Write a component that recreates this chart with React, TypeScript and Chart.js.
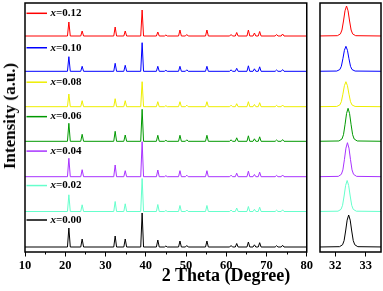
import React, { useEffect, useRef } from 'react';
import { Chart, registerables } from 'chart.js';
Chart.register(...registerables);

// ---- data ----
const sampleNames = ['0.00', '0.02', '0.04', '0.06', '0.08', '0.10', '0.12'];
const sampleColors = ['#000000', '#66ffcc', '#a833ff', '#009900', '#eeee00', '#0000ff', '#ff0000'];
const stackOffsets = [0, 35.5, 70.3, 105.7, 140.3, 175.7, 211];

const peakPositions = [20.9, 24.2, 32.4, 34.9, 39.1, 43.0, 45.0, 48.5, 50.2, 55.2, 61.2, 62.6, 65.5, 67.0, 68.3, 72.5, 74.0];
const heights000 = [19, 8, 11, 8, 34, 7, 1, 6, 1.5, 6, 1.5, 3.5, 5, 2.2, 4.3, 1.3, 1.7];
const heights002 = [16.7, 6.7, 10, 7.7, 33, 7, 1, 6, 1.5, 6, 1.5, 3.5, 5, 2.2, 4.3, 1.3, 1.7];
const heights004 = [18.4, 7, 11.7, 6, 35, 6.7, 1, 6, 1.5, 6, 1.5, 3.5, 5.5, 2.2, 4.5, 1.3, 1.7];
const heights006 = [18, 7, 10, 6.3, 32, 6, 1, 6, 1.5, 6, 1.5, 3.5, 5.5, 2.5, 4.5, 1.3, 1.7];
const heights008 = [12.7, 6, 8, 6, 25, 5, 1, 5, 1.5, 5, 1.5, 3, 5, 2.2, 4, 1.3, 1.7];
const heights010 = [14.6, 5, 8, 6, 28.6, 5, 1, 5, 1.5, 5, 1.5, 3, 5.5, 2.5, 4.5, 1.3, 1.7];
const heights012 = [14, 5, 9, 5, 26, 4, 1, 6, 1.5, 6, 1.5, 3.5, 6, 3, 4.5, 1.5, 2];
const mainHeights = [heights000, heights002, heights004, heights006, heights008, heights010, heights012];
const peakHalfBase = 0.35;

// inset: (32.4) reflection
const insetCenters = [32.44, 32.39, 32.40, 32.42, 32.35, 32.35, 32.37];
const insetHeights = [32, 31, 34, 33, 25, 25, 30];
const insetShapeDx = [-1.0, -0.3, -0.2, -0.15, -0.1, -0.05, 0, 0.05, 0.1, 0.15, 0.2, 0.3, 1.2];
const insetShapeRel = [0, 0.01, 0.07, 0.2, 0.5, 0.84, 1, 0.84, 0.5, 0.2, 0.07, 0.01, 0];

const mainXTicks = [10, 20, 30, 40, 50, 60, 70, 80];
const insetXTicks = [32, 33];

const FONT = '"Liberation Serif", "Times New Roman", serif';

function buildMain(i: number) {
  const off = stackOffsets[i];
  const pts: { x: number; y: number }[] = [{ x: 10, y: off }];
  peakPositions.forEach((p, k) => {
    pts.push({ x: p - peakHalfBase, y: off });
    pts.push({ x: p, y: off + mainHeights[i][k] });
    pts.push({ x: p + peakHalfBase, y: off });
  });
  pts.push({ x: 80, y: off });
  return pts;
}

function buildInset(i: number) {
  const off = stackOffsets[i];
  const pts = [{ x: 31.5, y: off }];
  insetShapeDx.forEach((d, k) => {
    pts.push({ x: insetCenters[i] + d, y: off + insetHeights[i] * insetShapeRel[k] });
  });
  pts.push({ x: 33.5, y: off });
  return pts;
}

const framePlugin = {
  id: 'frame',
  afterDraw(chart: any) {
    const { ctx, chartArea: a } = chart;
    ctx.save();
    ctx.strokeStyle = '#000';
    ctx.lineWidth = 1.5;
    ctx.strokeRect(a.left, a.top, a.right - a.left, a.bottom - a.top);
    ctx.restore();
  },
};

const minorPlugin = {
  id: 'minorTicks',
  afterDraw(chart: any) {
    const opts = chart.options.plugins.minorTicks;
    if (!opts) return;
    const { ctx, chartArea: a, scales } = chart;
    const xs = scales.x;
    ctx.save();
    ctx.strokeStyle = '#000';
    ctx.lineWidth = 1;
    for (let v = opts.from; v <= opts.to + 1e-9; v += opts.step) {
      const px = Math.round(xs.getPixelForValue(v)) + 0.5;
      ctx.beginPath();
      ctx.moveTo(px, a.bottom);
      ctx.lineTo(px, a.bottom + 2.5);
      ctx.stroke();
    }
    ctx.restore();
  },
};

const legendPlugin = {
  id: 'stackLegend',
  afterDatasetsDraw(chart: any) {
    if (!chart.options.plugins.stackLegend) return;
    const { ctx, chartArea: a } = chart;
    ctx.save();
    const n = sampleNames.length;
    for (let k = 0; k < n; k++) {
      const i = n - 1 - k;
      const y = a.top + 10.3 + k * 34.45;
      ctx.strokeStyle = sampleColors[i];
      ctx.lineWidth = 1.5;
      ctx.beginPath();
      ctx.moveTo(a.left + 1.5, y);
      ctx.lineTo(a.left + 22, y);
      ctx.stroke();
      ctx.fillStyle = '#000';
      ctx.textBaseline = 'middle';
      ctx.textAlign = 'left';
      ctx.font = `italic bold 11px ${FONT}`;
      const x0 = a.left + 25.5;
      ctx.fillText('x', x0, y);
      const w = ctx.measureText('x').width;
      ctx.font = `bold 11px ${FONT}`;
      ctx.fillText('=' + sampleNames[i], x0 + w, y);
    }
    ctx.restore();
  },
};

function makeOptions(xmin: number, xmax: number, ticks: number[], yWidth: number, pad: any, extra: any) {
  return {
    animation: false,
    responsive: false,
    maintainAspectRatio: false,
    layout: { padding: pad },
    plugins: { legend: { display: false }, tooltip: { enabled: false }, ...extra },
    elements: { point: { radius: 0 }, line: { borderWidth: 1, tension: 0 } },
    scales: {
      x: {
        type: 'linear',
        min: xmin,
        max: xmax,
        afterBuildTicks: (s: any) => {
          s.ticks = ticks.map((v) => ({ value: v }));
        },
        afterFit: (s: any) => {
          s.height = 39;
        },
        grid: { drawOnChartArea: false, drawTicks: true, tickLength: 4.5, color: '#000', lineWidth: 1 },
        border: { display: false },
        ticks: {
          color: '#000',
          padding: 2,
          font: { family: FONT, weight: 'bold', size: 12.5 },
          maxRotation: 0,
          autoSkip: false,
        },
      },
      y: {
        type: 'linear',
        min: -5,
        max: 244,
        afterFit: (s: any) => {
          s.width = yWidth;
        },
        grid: { display: false },
        border: { display: false },
        ticks: { display: false },
      },
    },
  };
}

export default function App() {
  const mainRef = useRef<HTMLCanvasElement>(null);
  const insetRef = useRef<HTMLCanvasElement>(null);

  useEffect(() => {
    const mainChart = new Chart(mainRef.current as HTMLCanvasElement, {
      type: 'line',
      data: {
        datasets: sampleNames.map((name, i) => ({
          label: 'x=' + name,
          data: buildMain(i),
          borderColor: sampleColors[i],
          parsing: false,
        })),
      },
      options: makeOptions(10, 80, mainXTicks, 25, { top: 3, right: 7, left: 0, bottom: 0 }, {
        minorTicks: { from: 15, to: 75, step: 10 },
        stackLegend: true,
      }) as any,
      plugins: [framePlugin, minorPlugin, legendPlugin],
    });
    const insetChart = new Chart(insetRef.current as HTMLCanvasElement, {
      type: 'line',
      data: {
        datasets: sampleNames.map((name, i) => ({
          label: 'x=' + name,
          data: buildInset(i),
          borderColor: sampleColors[i],
          parsing: false,
        })),
      },
      options: makeOptions(31.5, 33.5, insetXTicks, 5, { top: 3, right: 2, left: 0, bottom: 0 }, {}) as any,
      plugins: [framePlugin],
    });
    return () => {
      mainChart.destroy();
      insetChart.destroy();
    };
  }, []);

  return (
    <div style={{ position: 'absolute', left: 0, top: 0, width: 383, height: 291, background: '#fff', overflow: 'hidden' }}>
      <canvas ref={mainRef} width={315} height={291} style={{ position: 'absolute', left: 0, top: 0, width: 315, height: 291 }} />
      <canvas ref={insetRef} width={68} height={291} style={{ position: 'absolute', left: 315, top: 0, width: 68, height: 291 }} />
      <div
        style={{
          position: 'absolute',
          left: 226,
          top: 265,
          transform: 'translateX(-50%)',
          whiteSpace: 'nowrap',
          font: `bold 18px ${FONT}`,
          lineHeight: '20px',
          color: '#000',
        }}
      >
        2 Theta (Degree)
      </div>
      <div
        style={{
          position: 'absolute',
          left: 10,
          top: 116,
          transform: 'translate(-50%, -50%) rotate(-90deg)',
          whiteSpace: 'nowrap',
          font: `bold 17px ${FONT}`,
          lineHeight: '20px',
          color: '#000',
        }}
      >
        Intensity (a.u.)
      </div>
    </div>
  );
}
